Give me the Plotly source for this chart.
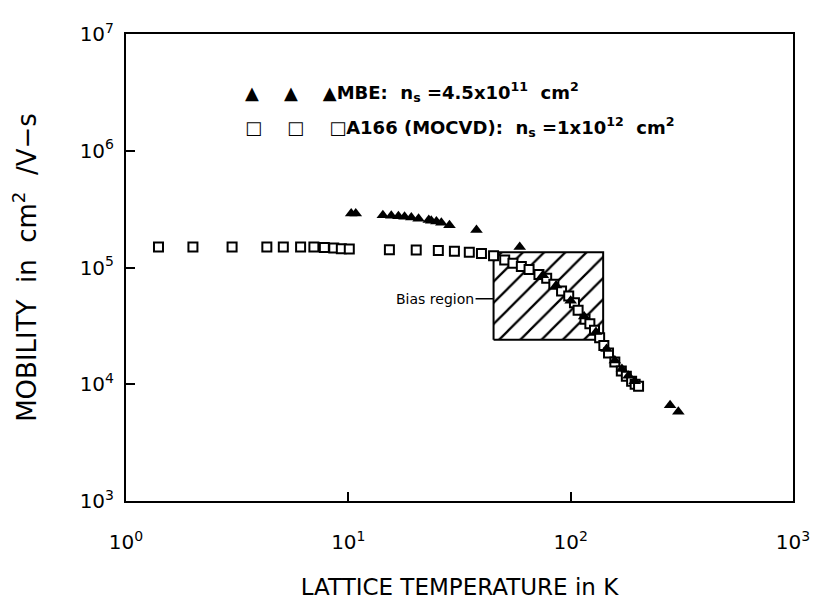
import numpy as np
import plotly.graph_objects as go

# A166 (MOCVD) squares: lattice temperature (K) vs mobility (cm^2/V-s)
mocvd_T = [1.4, 2.0, 3.0, 4.3, 5.1, 6.1, 7.0, 7.8, 8.6, 9.3, 10.1,
           15.3, 20.2, 25.4, 30, 35, 39.7, 45, 50.5, 55, 60, 65, 72, 78,
           84, 91, 98, 104, 108, 116, 122, 128, 135, 141, 148, 158, 169,
           178, 188, 195, 202]
mocvd_mu = [1.5e5, 1.5e5, 1.5e5, 1.5e5, 1.5e5, 1.5e5, 1.5e5, 1.48e5, 1.47e5, 1.45e5, 1.44e5,
            1.42e5, 1.41e5, 1.4e5, 1.38e5, 1.35e5, 1.32e5, 1.26e5, 1.16e5, 1.09e5, 1.02e5, 9.6e4, 8.7e4, 8.1e4,
            7.2e4, 6.3e4, 5.7e4, 5.0e4, 4.3e4, 3.6e4, 3.3e4, 2.9e4, 2.5e4, 2.15e4, 1.85e4, 1.55e4, 1.3e4,
            1.17e4, 1.06e4, 1.0e4, 9.6e3]

# MBE triangles
mbe_T = [10.3, 10.8, 14.3, 15.6, 16.8, 17.9, 19.2, 20.7, 23.0, 23.6, 24.9, 26.2, 28.5,
         37.7, 59, 75, 86, 100, 115, 130, 145, 158, 170, 182, 194, 280, 305]
mbe_mu = [2.9e5, 2.9e5, 2.8e5, 2.78e5, 2.75e5, 2.72e5, 2.68e5, 2.62e5, 2.55e5, 2.52e5, 2.48e5, 2.42e5, 2.3e5,
          2.1e5, 1.5e5, 8.6e4, 7.0e4, 5.2e4, 3.8e4, 2.8e4, 2.0e4, 1.6e4, 1.35e4, 1.18e4, 1.06e4, 6.6e3, 5.8e3]

# bias region box
box_T = [45, 140]
box_mu = [2.4e4, 1.35e5]

x_ticks = [1, 10, 100, 1000]
x_labels = ["10<sup>0</sup>", "10<sup>1</sup>", "10<sup>2</sup>", "10<sup>3</sup>"]
y_ticks = [1e3, 1e4, 1e5, 1e6, 1e7]
y_labels = ["10<sup>3</sup>", "10<sup>4</sup>", "10<sup>5</sup>", "10<sup>6</sup>", "10<sup>7</sup>"]

FONT = "DejaVu Sans"

fig = go.Figure()

# hatched bias region
fig.add_trace(go.Scatter(
    x=[box_T[0], box_T[1], box_T[1], box_T[0], box_T[0]],
    y=[box_mu[0], box_mu[0], box_mu[1], box_mu[1], box_mu[0]],
    mode="lines", fill="toself", fillcolor="white",
    fillpattern=dict(shape="/", size=15, solidity=0.15, fgcolor="black",
                     bgcolor="white", fgopacity=1),
    line=dict(color="black", width=2), hoverinfo="skip", showlegend=False))

fig.add_trace(go.Scatter(
    x=mocvd_T, y=mocvd_mu, mode="markers",
    marker=dict(symbol="square", size=9, color="white", line=dict(color="black", width=2)),
    name="A166 (MOCVD)", showlegend=False))

fig.add_trace(go.Scatter(
    x=mbe_T, y=mbe_mu, mode="markers",
    marker=dict(symbol="triangle-up", size=11, color="black", line=dict(width=0)),
    name="MBE", showlegend=False))

# legend written as text
leg_font = dict(family=FONT, size=18, color="black", weight="bold")
fig.add_annotation(xref="paper", yref="paper", x=0.176, y=0.876, xanchor="left", yanchor="middle",
                   showarrow=False, font=leg_font,
                   text="▲    ▲    ▲MBE:  n<sub>s</sub> =4.5x10<sup>11</sup>  cm<sup>2</sup>")
fig.add_annotation(xref="paper", yref="paper", x=0.176, y=0.8, xanchor="left", yanchor="middle",
                   showarrow=False, font=leg_font,
                   text="□    □    □A166 (MOCVD):  n<sub>s</sub> =1x10<sup>12</sup>  cm<sup>2</sup>")

# bias region label
fig.add_annotation(x=np.log10(box_T[0]), y=np.log10(5.4e4), text="Bias region",
                   showarrow=True, arrowhead=0, arrowwidth=1.5, arrowcolor="black",
                   ax=-18, ay=0, xanchor="right", standoff=0,
                   font=dict(family=FONT, size=14, color="black"))

axis_common = dict(type="log", showgrid=False, zeroline=False, showline=True,
                   linecolor="black", linewidth=2, mirror=True,
                   ticks="inside", ticklen=9, tickwidth=1.5, tickcolor="black",
                   tickfont=dict(family=FONT, size=20, color="black"))

fig.update_layout(
    width=818, height=611,
    margin=dict(l=118, r=33, t=18, b=118),
    plot_bgcolor="white", paper_bgcolor="white",
    showlegend=False,
    xaxis=dict(range=[0, 3], tickvals=x_ticks, ticktext=x_labels, ticklabelstandoff=22,
               title=dict(text="LATTICE TEMPERATURE in K", standoff=26,
                          font=dict(family=FONT, size=23, color="black")),
               **axis_common),
    yaxis=dict(range=[3, 7], tickvals=y_ticks, ticktext=y_labels, ticklabelstandoff=6,
               title=dict(text="MOBILITY  in  cm<sup>2</sup>  /V−s", standoff=36,
                          font=dict(family=FONT, size=26, color="black")),
               **axis_common),
)

fig.write_html("out.html")
